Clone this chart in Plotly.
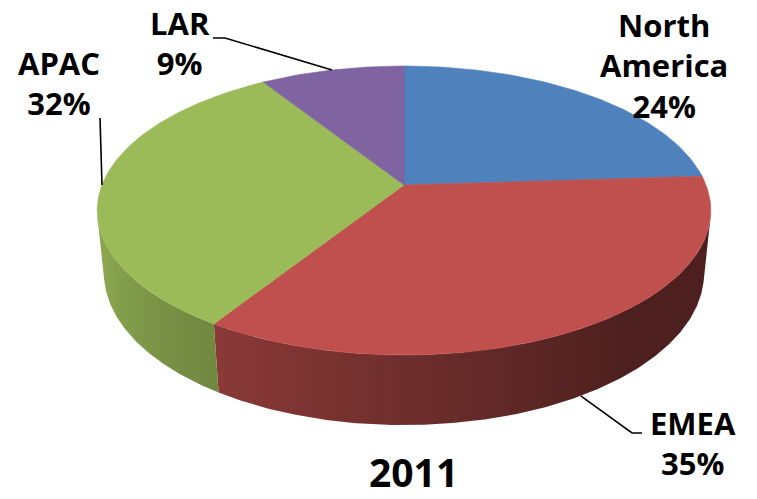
import numpy as np
import plotly.graph_objects as go

# ---------------- data ----------------
regions = ["North America", "EMEA", "APAC", "LAR"]
shares = [24, 35, 32, 9]
chart_title = "2011"

# ---------------- style ----------------
top_colors = ["#4f81bd", "#c0504d", "#9bbb59", "#8064a2"]
FONT = "'Open Sans', Lato, 'Liberation Sans', sans-serif"

# 3D projection of a tilted, thick disk (perspective view from above)
CX, CY = 404.0, 185.0      # projected centre of the top face
SCALE = 302.0
SIN_E = 0.4636             # elevation of the viewer
COS_E = float(np.sqrt(1 - SIN_E ** 2))
K = 0.1765                 # perspective strength
DIST = COS_E / K
THICK = 0.235              # disk thickness (radius = 1)


def project(X, Y, Z):
    up = Y * COS_E + Z * SIN_E
    depth = DIST + Z * COS_E - Y * SIN_E
    f = DIST / depth
    return CX + SCALE * X * f, CY - SCALE * up * f


def rim(phi_deg, Y):
    p = np.radians(phi_deg)
    return project(np.sin(p), Y, np.cos(p))


def hex_to_rgb(h):
    h = h.lstrip("#")
    return [int(h[i:i + 2], 16) for i in (0, 2, 4)]


def shade(hex_col, factor):
    r, g, b = [min(255, int(round(c * factor))) for c in hex_to_rgb(hex_col)]
    return f"rgb({r},{g},{b})"


def wall_factor(phi):
    return float(np.clip(0.44 + (phi - 150.0) * 0.0045, 0.40, 0.90))


total = float(sum(shares))
bounds = np.concatenate([[0.0], np.cumsum(shares) / total * 360.0])

# visible part of the outer wall
vis0 = float(np.degrees(np.arccos(-1.0 / (DIST * COS_E))))
vis1 = 360.0 - vis0

fig = go.Figure()

# ---- outer walls (front), horizontal gradient shading ----
for i, col in enumerate(top_colors):
    a, b = max(bounds[i], vis0), min(bounds[i + 1], vis1)
    if b <= a:
        continue
    angs = np.linspace(a, b, int(np.ceil(b - a)) * 2 + 2)
    top = [rim(p, 0.0) for p in angs]
    bot = [rim(p, -THICK) for p in angs[::-1]]
    xs = [p[0] for p in top] + [p[0] for p in bot] + [top[0][0]]
    ys = [p[1] for p in top] + [p[1] for p in bot] + [top[0][1]]
    xmin, xmax = min(xs), max(xs)
    # a few gradient stops along the wall
    stop_angs = np.linspace(a, b, 7)
    samples = sorted((rim(p, -THICK / 2)[0], p) for p in stop_angs)
    cs, last = [], -1.0
    for sx, p in samples:
        t = min(1.0, max(0.0, (sx - xmin) / (xmax - xmin)))
        if t <= last + 0.02:
            continue
        cs.append([t, shade(col, wall_factor(p))])
        last = t
    cs[0][0] = 0.0
    cs[-1][0] = 1.0
    fig.add_trace(go.Scatter(x=xs, y=ys, mode="lines", fill="toself",
                             fillgradient=dict(type="horizontal", colorscale=cs),
                             line=dict(width=0), hoverinfo="skip",
                             showlegend=False))

# ---- top faces ----
cx0, cy0 = project(0.0, 0.0, 0.0)
for i, col in enumerate(top_colors):
    a, b = bounds[i], bounds[i + 1]
    angs = np.linspace(a, b, max(3, int(np.ceil(b - a)) + 1))
    xs, ys = [cx0], [cy0]
    for p in angs:
        x, y = rim(p, 0.0)
        xs.append(x)
        ys.append(y)
    xs.append(cx0)
    ys.append(cy0)
    fig.add_trace(go.Scatter(x=xs, y=ys, mode="lines", fill="toself",
                             fillcolor=col, line=dict(color=col, width=0.6),
                             hoverinfo="skip", showlegend=False,
                             name=regions[i]))

# ---- labels & leader lines ----
mids = 0.5 * (bounds[:-1] + bounds[1:])
label_pos = {  # label block centre, leader elbow points
    "North America": ((664, 65), None),
    "EMEA": ((693, 443), [(632, 433), (642, 433)]),
    "APAC": ((59, 83), [(100, 118)]),
    "LAR": ((180, 43), [(225, 38), (213, 38)]),
}
anchor_level = {"EMEA": -THICK}

for i, name in enumerate(regions):
    (lx, ly), elbows = label_pos[name]
    text = "<b>" + name.replace(" ", "<br>") + f"<br>{shares[i]}%</b>"
    fig.add_annotation(x=lx, y=ly, text=text, showarrow=False,
                       xanchor="center", yanchor="middle", align="center",
                       font=dict(family=FONT, size=31, color="#000000"))
    if elbows:
        ax, ay = rim(mids[i], anchor_level.get(name, 0.0))
        pts = [(ax, ay)] + elbows
        fig.add_trace(go.Scatter(x=[p[0] for p in pts], y=[p[1] for p in pts],
                                 mode="lines", line=dict(color="#000000", width=1.6),
                                 hoverinfo="skip", showlegend=False))

fig.add_annotation(x=413, y=471, text=f"<b>{chart_title}</b>", showarrow=False,
                   xanchor="center", yanchor="middle",
                   font=dict(family=FONT, size=39, color="#000000"))

fig.update_layout(
    width=757, height=499,
    margin=dict(l=0, r=0, t=0, b=0),
    paper_bgcolor="#ffffff", plot_bgcolor="#ffffff",
    showlegend=False,
    xaxis=dict(range=[0, 757], visible=False, fixedrange=True),
    yaxis=dict(range=[499, 0], visible=False, fixedrange=True),
)

fig.write_html("out.html",
               config={"displayModeBar": False, "staticPlot": True},
               post_script="document.body.style.margin='0';"
                           "document.body.style.overflow='hidden';")
